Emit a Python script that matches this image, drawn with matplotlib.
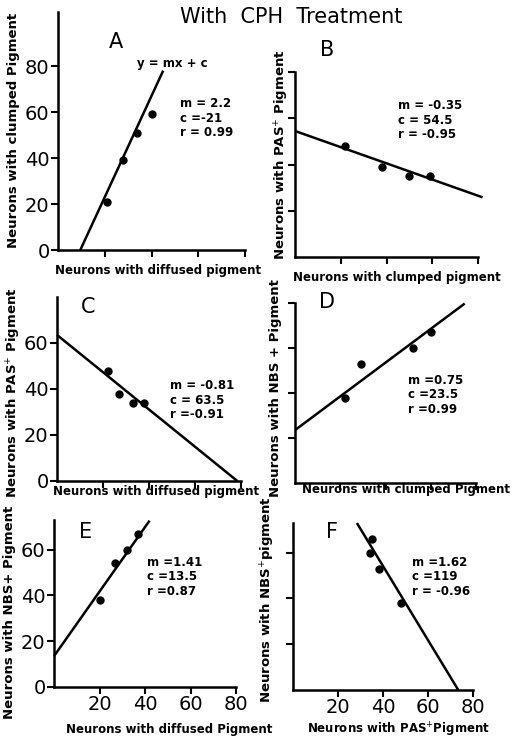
import matplotlib
matplotlib.use("Agg")
import matplotlib.pyplot as plt
import numpy as np

W, H = 521, 740

# ---- data ----
A_x = [21, 28, 34, 40]; A_y = [21, 39, 51, 59]
B_x = [22, 38, 50, 59]; B_y = [48, 39, 35, 35]
C_x = [22, 27, 33, 38]; C_y = [48, 38, 34, 34]
D_x = [22, 29, 52, 60]; D_y = [38, 53, 60, 67]
E_x = [20, 27, 32, 37]; E_y = [38, 54, 60, 67]
F_x = [34, 35, 38, 48]; F_y = [60, 66, 53, 38]

# fitted lines: slope, intercept, x-range
fit_m = {"A": 2.2, "B": -0.35, "C": -0.81, "D": 0.75, "E": 1.41, "F": -1.62}
fit_c = {"A": -21, "B": 54.5, "C": 63.5, "D": 23.5, "E": 13.5, "F": 119}
fit_range = {"A": (9.5, 45), "B": (0, 82), "C": (0, 78.4), "D": (0, 75),
             "E": (0, 42), "F": (28.4, 73.5)}

stats = {
    "A": ["m = 2.2", "c =-21", "r = 0.99"],
    "B": ["m = -0.35", "c = 54.5", "r = -0.95"],
    "C": ["m = -0.81", "c = 63.5", "r =-0.91"],
    "D": ["m =0.75", "c =23.5", "r =0.99"],
    "E": ["m =1.41", "c =13.5", "r =0.87"],
    "F": ["m =1.62", "c =119", "r = -0.96"],
}
ylabels = {
    "A": "Neurons with clumped Pigment",
    "B": "Neurons with PAS$^{+}$ Pigment",
    "C": "Neurons with PAS$^{+}$ Pigment",
    "D": "Neurons with NBS + Pigment",
    "E": "Neurons with NBS+ Pigment",
    "F": "Neurons with NBS$^{+}$pigment",
}
xlabels = {
    "A": "Neurons with diffused pigment",
    "B": "Neurons with clumped pigment",
    "C": "Neurons with diffused pigment",
    "D": "Neurons with clumped Pigment",
    "E": "Neurons with diffused Pigment",
    "F": "Neurons with PAS$^{+}$Pigment",
}
x_ticks = [20, 40, 60, 80]
y_ticks = {"A": [0, 20, 40, 60, 80], "B": [20, 40, 60, 80], "C": [0, 20, 40, 60],
           "D": [20, 40, 60, 80], "E": [0, 20, 40, 60], "F": [20, 40, 60]}
show_ylab = {"A": True, "B": False, "C": True, "D": False, "E": True, "F": False}
show_xlab = {"A": False, "B": False, "C": False, "D": False, "E": True, "F": True}
ytop = {"A": 103.5, "B": 80, "C": 80, "D": 80, "E": 73, "F": 73}

# ---- layout (pixel geometry) ----
geom = {  # x0px, x80px, y0px, ytop_px
    "A": (58, 245, 250, 12),
    "B": (295, 478, 257, 72),
    "C": (57, 241, 481, 297),
    "D": (295, 476, 483, 303),
    "E": (54, 236, 687, 520),
    "F": (293, 473, 690, 523),
}
letter_pos = {"A": (116, 42), "B": (327, 50), "C": (88, 307), "D": (327, 302),
              "E": (86, 532), "F": (332, 532)}
stats_pos = {"A": (180, 97), "B": (398, 99), "C": (170, 379), "D": (408, 374),
             "E": (147, 556), "F": (412, 556)}
ylab_pos = {"A": (14, 130), "B": (282, 155), "C": (14, 393), "D": (275, 388),
            "E": (10, 612), "F": (268, 600)}
xlab_pos = {"A": (158, 270), "B": (397, 277), "C": (156, 492), "D": (406, 490),
            "E": (169, 730), "F": (398, 730)}

def fx(x):
    return x / W

def fy(y):
    return 1 - y / H

fig = plt.figure(figsize=(W / 100, H / 100), dpi=100)
fig.patch.set_facecolor("white")

data = {"A": (A_x, A_y), "B": (B_x, B_y), "C": (C_x, C_y),
        "D": (D_x, D_y), "E": (E_x, E_y), "F": (F_x, F_y)}

for key in "ABCDEF":
    x0, x80, y0, yt = geom[key]
    ax = fig.add_axes([fx(x0), fy(y0), (x80 - x0) / W, (y0 - yt) / H])
    ax.set_xlim(0, 80)
    ax.set_ylim(0, ytop[key])
    for s in ("top", "right"):
        ax.spines[s].set_visible(False)
    for s in ("left", "bottom"):
        ax.spines[s].set_linewidth(1.8)
    ax.set_xticks(x_ticks)
    ax.set_yticks(y_ticks[key])
    ax.tick_params(direction="out", length=5, width=1.5, labelsize=14, pad=1)
    if not show_xlab[key]:
        ax.set_xticklabels([])
    if not show_ylab[key]:
        ax.set_yticklabels([])
    xs, ys = data[key]
    ax.plot(xs, ys, "o", color="black", markersize=5, clip_on=False)
    a, b = fit_range[key]
    lx = np.array([a, b])
    ax.plot(lx, fit_m[key] * lx + fit_c[key], color="black", lw=1.8,
            clip_on=False, solid_capstyle="butt")

    lx_, ly_ = letter_pos[key]
    fig.text(fx(lx_), fy(ly_), key, ha="center", va="center", fontsize=15)
    sx, sy = stats_pos[key]
    fig.text(fx(sx), fy(sy), "\n".join(stats[key]), ha="left", va="top",
             fontsize=8.5, fontweight="bold", linespacing=1.15)
    yx, yy = ylab_pos[key]
    fig.text(fx(yx), fy(yy), ylabels[key], rotation=90, ha="center",
             va="center", fontsize=9.5, fontweight="bold")
    xx, xy = xlab_pos[key]
    fig.text(fx(xx), fy(xy), xlabels[key], ha="center", va="center",
             fontsize=8.5, fontweight="bold")

fig.text(fx(172), fy(63), "y = mx + c", ha="center", va="center",
         fontsize=8.5, fontweight="bold")
fig.text(fx(291), fy(17), "With  CPH  Treatment", ha="center", va="center",
         fontsize=15)

fig.savefig("out.png", dpi=100)
